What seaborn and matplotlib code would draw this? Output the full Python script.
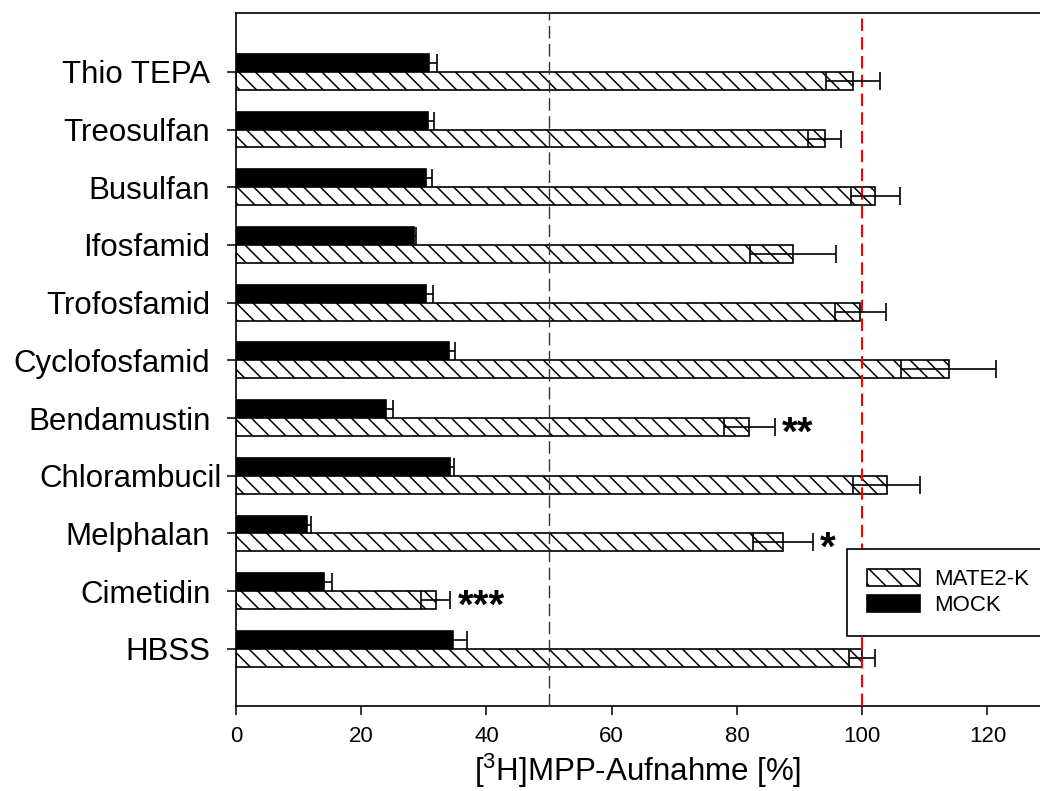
import matplotlib
matplotlib.use("Agg")
import matplotlib.pyplot as plt
from matplotlib.patches import Patch
from matplotlib.transforms import ScaledTranslation
import pandas as pd
import seaborn as sns

# [3H]MPP uptake per substance, mean and SD in percent of the HBSS control
substances = ["Thio TEPA", "Treosulfan", "Busulfan", "Ifosfamid", "Trofosfamid",
              "Cyclofosfamid", "Bendamustin", "Chlorambucil", "Melphalan",
              "Cimetidin", "HBSS"]
mock_mean = [30.9, 30.7, 30.4, 28.4, 30.4, 34.0, 23.9, 34.2, 11.3, 14.1, 34.7]
mock_sd = [1.2, 1.0, 0.9, 0.4, 1.0, 1.0, 1.2, 0.6, 0.7, 1.2, 2.2]
mate_mean = [98.5, 94.0, 102.1, 89.0, 99.7, 113.8, 82.0, 103.9, 87.3, 31.9, 100.0]
mate_sd = [4.3, 2.6, 3.9, 6.9, 4.1, 7.6, 4.0, 5.3, 4.8, 2.35, 2.1]
significance = ["", "", "", "", "", "", "**", "", "*", "***", ""]
groups = ["MOCK", "MATE2-K"]
x_ticks = [0, 20, 40, 60, 80, 100, 120]
ref_lines = [50, 100]

HATCH = "\\\\"

sns.set_theme(style="ticks")
plt.rcParams["font.family"] = ["Liberation Sans", "DejaVu Sans"]
plt.rcParams["mathtext.fontset"] = "custom"
plt.rcParams["mathtext.rm"] = "Liberation Sans"
plt.rcParams["hatch.linewidth"] = 1.1
plt.rcParams["text.color"] = "black"
plt.rcParams["axes.labelcolor"] = "black"

df = pd.concat([
    pd.DataFrame({"substance": substances, "group": groups[0],
                  "value": mock_mean, "sd": mock_sd}),
    pd.DataFrame({"substance": substances, "group": groups[1],
                  "value": mate_mean, "sd": mate_sd}),
], ignore_index=True)

fig = plt.figure(figsize=(10.4, 7.91), dpi=100)
ax = fig.add_axes([236 / 1040, 85 / 791, 804 / 1040, 693 / 791])

sns.barplot(data=df, x="value", y="substance", hue="group",
            order=substances, hue_order=groups,
            palette={"MOCK": "black", "MATE2-K": "white"},
            orient="h", width=0.62, gap=0, errorbar=None, saturation=1,
            edgecolor="black", linewidth=1.2, ax=ax, zorder=2, legend=False)

# hatching for the MATE2-K bars
for bar in ax.containers[1]:
    bar.set_hatch(HATCH)
    bar.set_edgecolor("black")

# error bars (mean +/- SD) at the bar centres
for container, grp in zip(ax.containers, groups):
    sub = df[df["group"] == grp].set_index("substance").loc[substances]
    ys = [b.get_y() + b.get_height() / 2 for b in container]
    ax.errorbar(sub["value"].values, ys, xerr=sub["sd"].values, fmt="none",
                ecolor="black", elinewidth=1.2, capsize=6.5, capthick=1.2,
                zorder=4)

# significance marks next to the MATE2-K error bars
star_size = 29
for bar, mean, sd, mark in zip(ax.containers[1], mate_mean, mate_sd, significance):
    if mark:
        ax.annotate(mark, xy=(mean + sd, bar.get_y() + bar.get_height() / 2),
                    xytext=(5, -0.44 * star_size), textcoords="offset points",
                    ha="left", va="baseline", fontsize=star_size,
                    fontweight="bold", color="black", zorder=5)

ax.axvline(ref_lines[0], color="#333333", lw=1.0, ls=(0, (9, 4)), zorder=3)
ax.axvline(ref_lines[1], color="#ff0000", lw=1.5, ls=(0, (6, 3)), zorder=3)

ax.set_xlim(0, 128.4)
ax.set_ylim(10.99, -1.02)
ax.set_xticks(x_ticks)
ax.set_xticklabels([str(t) for t in x_ticks])
ax.set_xlabel("[$^3$H]MPP-Aufnahme [%]", fontsize=22.5, labelpad=3,
              color="black")
ax.set_ylabel("")
ax.tick_params(axis="x", direction="out", length=6.5, width=1.1,
               labelsize=16, pad=8, color="black", labelcolor="black")
ax.tick_params(axis="y", direction="out", length=6.5, width=1.1,
               labelsize=22.5, pad=12, color="black", labelcolor="black")

# the Chlorambucil label sits a little closer to the axis
for lbl in ax.get_yticklabels():
    if lbl.get_text() == "Chlorambucil":
        lbl.set_transform(lbl.get_transform()
                          + ScaledTranslation(0.11, 0, fig.dpi_scale_trans))

for side in ["left", "bottom", "top"]:
    ax.spines[side].set_visible(True)
    ax.spines[side].set_color("black")
    ax.spines[side].set_linewidth(1.2)
ax.spines["right"].set_visible(False)

legend_handles = [
    Patch(facecolor="white", edgecolor="black", hatch=HATCH, linewidth=1.2,
          label="MATE2-K"),
    Patch(facecolor="black", edgecolor="black", linewidth=1.2, label="MOCK"),
]
leg = ax.legend(handles=legend_handles,
                loc="upper left", bbox_to_anchor=(847 / 1040, 1 - 549 / 791),
                bbox_transform=fig.transFigure, borderaxespad=0, fontsize=16,
                frameon=True, fancybox=False, framealpha=1, edgecolor="black",
                handlelength=2.4, handleheight=0.8, handletextpad=0.6,
                labelspacing=0.2, borderpad=0.9)
leg.get_frame().set_linewidth(1.2)
leg.set_zorder(10)

fig.savefig("out.png", dpi=100)
